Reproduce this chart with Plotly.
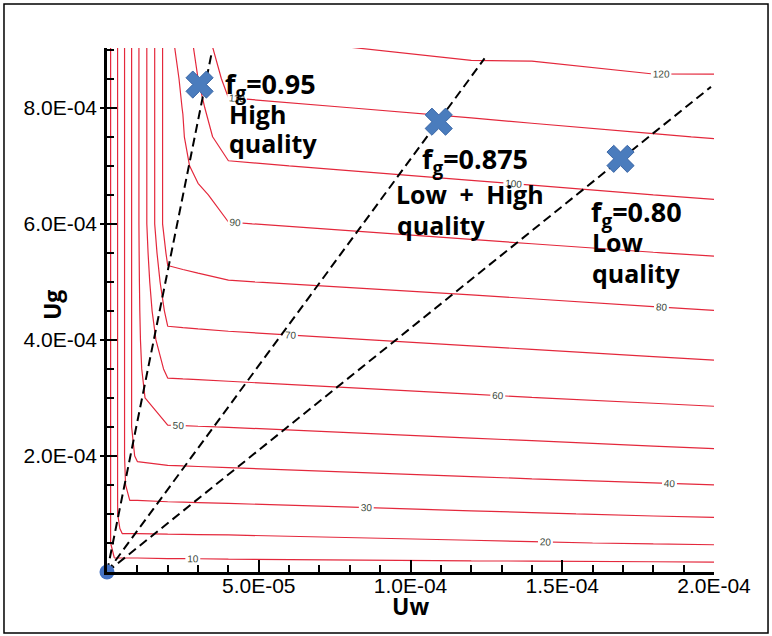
import plotly.graph_objects as go

# ---- data ----
uw_nodes = [0, 2.5e-6, 5e-6, 7.5e-6, 1e-5, 2e-5, 2.5e-5, 3e-5, 4e-5, 1.2e-4, 1.4e-4, 1.8e-4, 2e-4]
ug_nodes = [0, 2.5e-5, 5e-5, 7.5e-5, 1e-4, 1.5e-4, 2e-4, 2.5e-4, 3e-4, 3.5e-4, 4e-4,
            4.5e-4, 5e-4, 5.5e-4, 6e-4, 6.5e-4, 7e-4, 7.5e-4, 8e-4, 8.5e-4, 9.05e-4]
# pressure gradient at the nodes (rows follow ug_nodes, columns follow uw_nodes)
pressure_gradient = [
    [3.0, 3.0, 3.0, 3.0, 3.0, 3.5, 3.6, 3.75, 4.0, 4.0, 4.0, 4.0, 4.0],
    [4.8, 10.25, 10.25, 10.25, 10.25, 10.5, 10.55, 10.6, 10.75, 11.8, 12.0, 12.5, 12.8],
    [4.8, 15.7, 16.5, 16.5, 16.5, 16.75, 16.8, 16.9, 17.0, 19.0, 19.5, 20.5, 21.0],
    [4.8, 15.7, 21.9, 21.9, 21.9, 22.1, 22.2, 22.25, 22.4, 24.3, 24.8, 25.7, 26.2],
    [4.8, 15.7, 26.3, 26.3, 26.3, 26.5, 26.6, 26.7, 26.9, 29.05, 29.6, 30.7, 31.2],
    [4.8, 15.7, 26.6, 34.2, 34.2, 34.8, 34.95, 35.1, 35.4, 37.7, 38.3, 39.4, 40.0],
    [4.8, 15.7, 26.6, 37.4, 41.4, 42.5, 42.65, 42.8, 43.1, 45.65, 46.3, 47.6, 48.2],
    [4.8, 15.7, 26.6, 37.4, 48.0, 49.6, 49.7, 49.85, 50.1, 52.7, 53.35, 54.65, 55.3],
    [4.8, 15.7, 26.6, 37.4, 48.0, 55.9, 56.05, 56.2, 56.5, 59.2, 59.9, 61.2, 61.9],
    [4.8, 15.7, 26.6, 37.4, 48.0, 61.9, 62.1, 62.25, 62.6, 65.4, 66.1, 67.5, 68.2],
    [4.8, 15.7, 26.6, 37.4, 48.0, 67.6, 67.8, 67.95, 68.3, 71.2, 71.9, 73.4, 74.1],
    [4.8, 15.7, 26.6, 37.4, 48.0, 72.7, 73.0, 73.35, 74.0, 76.95, 77.7, 79.2, 79.9],
    [4.8, 15.7, 26.6, 37.4, 48.0, 77.4, 78.0, 78.55, 79.7, 82.5, 83.2, 84.6, 85.3],
    [4.8, 15.7, 26.6, 37.4, 48.0, 82.0, 82.7, 83.35, 84.7, 87.65, 88.4, 89.9, 90.6],
    [4.8, 15.7, 26.6, 37.4, 48.0, 86.5, 86.8, 87.5, 89.7, 92.75, 93.5, 95.0, 95.8],
    [4.8, 15.7, 26.6, 37.4, 48.0, 86.5, 86.9, 87.7, 94.5, 97.65, 98.4, 100.0, 100.8],
    [4.8, 15.7, 26.6, 37.4, 48.0, 86.5, 87.25, 93.5, 99.2, 102.4, 103.2, 104.8, 105.6],
    [4.8, 15.7, 26.6, 37.4, 48.0, 86.5, 89.3, 96.5, 103.8, 107.05, 107.9, 109.5, 110.3],
    [4.8, 15.7, 26.6, 37.4, 48.0, 86.5, 90.2, 97.6, 108.4, 111.6, 112.4, 114.0, 114.8],
    [4.8, 15.7, 26.6, 37.4, 48.0, 86.5, 91.2, 100.0, 113.0, 117.3, 117.3, 119.3, 119.3],
    [4.8, 15.7, 26.6, 37.4, 48.0, 86.5, 94.2, 102.6, 118.1, 122.0, 122.2, 124.0, 124.2],
]
contour_levels = [10, 120, 10]  # start, end, step

# constant foam-quality lines from the origin
fg_values = ["0.95", "0.875", "0.80"]
fg_line_uw_end = [3.45e-5, 1.244e-4, 1.99e-4]
fg_line_ug_end = [8.95e-4, 8.85e-4, 8.36e-4]

# marked states
point_uw = [3.05e-5, 1.093e-4, 1.692e-4]
point_ug = [8.40e-4, 7.76e-4, 7.12e-4]

# annotation texts with their anchor positions
label_texts = ["f<sub>g</sub>=0.95", "High", "quality",
               "f<sub>g</sub>=0.875", "Low\u2002+\u2002High", "quality",
               "f<sub>g</sub>=0.80", "Low", "quality"]
label_sizes = [27, 25, 25, 27, 25, 25, 27, 25, 25]
label_uw = [3.83e-5, 3.95e-5, 3.95e-5, 1.03e-4, 9.45e-5, 9.48e-5, 1.588e-4, 1.591e-4, 1.591e-4]
label_ug = [8.38e-4, 7.90e-4, 7.39e-4, 7.09e-4, 6.52e-4, 5.98e-4, 6.18e-4, 5.68e-4, 5.15e-4]

x_tick_vals = [5e-5, 1e-4, 1.5e-4, 2e-4]
x_tick_text = ["5.0E-05", "1.0E-04", "1.5E-04", "2.0E-04"]
y_tick_vals = [2e-4, 4e-4, 6e-4, 8e-4]
y_tick_text = ["2.0E-04", "4.0E-04", "6.0E-04", "8.0E-04"]

# ---- figure ----
fig = go.Figure()

fig.add_trace(go.Contour(
    x=uw_nodes, y=ug_nodes, z=pressure_gradient,
    contours=dict(start=contour_levels[0], end=contour_levels[1], size=contour_levels[2],
                  coloring="none", showlabels=True,
                  labelfont=dict(size=10, color="#3c4a3c", family="Liberation Sans")),
    line=dict(color="rgb(228,40,60)", width=1.2, smoothing=0),
    showscale=False, hoverinfo="skip",
))

for ue, ge in zip(fg_line_uw_end, fg_line_ug_end):
    fig.add_trace(go.Scatter(
        x=[0, ue], y=[0, ge], mode="lines",
        line=dict(color="black", width=2, dash="9px,5px"),
        showlegend=False, hoverinfo="skip",
    ))

fig.add_trace(go.Scatter(
    x=point_uw, y=point_ug, mode="markers",
    marker=dict(symbol="x", size=24, color="#4a7cbd", line=dict(color="#3a66a6", width=1)),
    showlegend=False, hoverinfo="skip", cliponaxis=False,
))

fig.add_trace(go.Scatter(
    x=[0], y=[0], mode="markers",
    marker=dict(symbol="circle", size=15, color="#4472c4", line=dict(width=0)),
    showlegend=False, hoverinfo="skip", cliponaxis=False,
))

# invisible trace for the outer tick axis
fig.add_trace(go.Scatter(x=[None], y=[None], yaxis="y2", showlegend=False, hoverinfo="skip"))

annots = []
for t, sz, ux, gy in zip(label_texts, label_sizes, label_uw, label_ug):
    annots.append(dict(
        x=ux, y=gy, xref="x", yref="y", text="<b>" + t + "</b>", showarrow=False,
        xanchor="left", yanchor="middle", align="left",
        font=dict(size=sz, color="black", family="Open Sans"),
    ))
# axis titles
title_font = dict(size=23, color="black", family="Open Sans")
annots.append(dict(x=0.5008, y=-0.0649, xref="paper", yref="paper", text="<b>Uw</b>",
                   showarrow=False, xanchor="center", yanchor="middle", font=title_font))
annots.append(dict(x=-0.0906, y=0.5095, xref="paper", yref="paper", text="<b>Ug</b>",
                   showarrow=False, xanchor="center", yanchor="middle", textangle=-90,
                   font=title_font))

axis_font = dict(size=21, color="black", family="Liberation Sans")

fig.update_layout(
    width=772, height=636,
    margin=dict(l=107, r=58, t=48, b=64),
    paper_bgcolor="white", plot_bgcolor="white",
    showlegend=False,
    annotations=annots,
    xaxis=dict(
        range=[0, 2e-4], showgrid=False, zeroline=False,
        showline=True, linecolor="black", linewidth=2.5,
        ticks="inside", ticklen=12, tickwidth=2, tickcolor="black",
        tickmode="array", tickvals=x_tick_vals, ticktext=x_tick_text,
        tickfont=axis_font, ticklabelstandoff=-7, automargin=False,
        minor=dict(tickmode="linear", tick0=0, dtick=1e-5, ticks="inside",
                   ticklen=7, tickwidth=1.5, tickcolor="black"),
    ),
    yaxis=dict(
        range=[0, 9.03e-4], showgrid=False, zeroline=False,
        showline=True, linecolor="black", linewidth=2.5,
        ticks="inside", ticklen=10, tickwidth=2, tickcolor="black",
        tickmode="array", tickvals=y_tick_vals, ticktext=y_tick_text,
        tickfont=axis_font, ticklabelstandoff=3, automargin=False,
        minor=dict(tickmode="linear", tick0=0, dtick=5e-5, ticks="inside",
                   ticklen=7, tickwidth=1.5, tickcolor="black"),
    ),
    yaxis2=dict(
        overlaying="y", anchor="x", side="left", range=[0, 9.03e-4],
        showgrid=False, zeroline=False, showline=False, showticklabels=False,
        ticks="outside", ticklen=6, tickwidth=2, tickcolor="black",
        tickmode="array", tickvals=y_tick_vals, automargin=False,
    ),
    shapes=[dict(type="rect", xref="paper", yref="paper",
                 x0=-0.1697, x1=1.089, y0=-0.1164, y1=1.084,
                 line=dict(color="black", width=1.5), fillcolor="rgba(0,0,0,0)", layer="below")],
)

fig.write_html("out.html", post_script="document.body.style.margin='0px';",
               config={"displayModeBar": False})
